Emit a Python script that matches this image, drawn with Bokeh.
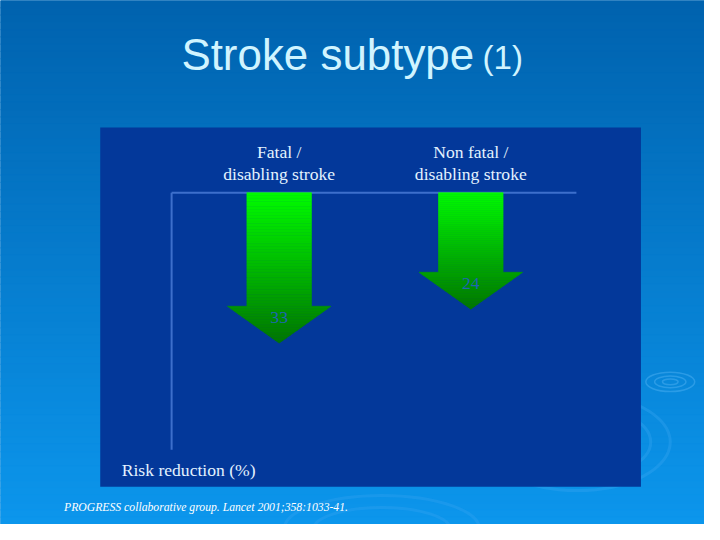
import numpy as np
from bokeh.plotting import figure
from bokeh.models import Range1d, ColumnDataSource
from bokeh.core.properties import value
from bokeh.embed import file_html
from bokeh.resources import INLINE

# ---- data ----
categories = ["Fatal /\ndisabling stroke", "Non fatal /\ndisabling stroke"]
risk_reduction = [33, 24]
title_main = "Stroke subtype"
title_suffix = "(1)"
axis_title = "Risk reduction (%)"
source_note = "PROGRESS collaborative group. Lancet 2001;358:1033-41."

# ---- layout helpers (reference-slide pixel -> data units) ----
W, H = 704, 524
REF_W, REF_H = 720, 540
FS = 0.975        # font scale (canvas / reference slide)
PX_X = 196.0      # ref px per category step
PX_Y = 3.89       # ref px per percentage point
X0_REF = 285.0    # ref x of first category centre
Y0_REF = 198.0    # ref y of zero line


def xd(rx):
    return (rx - X0_REF) / PX_X


def yd(ry):
    return (ry - Y0_REF) / PX_Y


def fpx(s):
    return "%.1fpx" % (s * FS)


def lerp(c0, c1, t):
    return "#%02x%02x%02x" % tuple(int(round(a + (b - a) * t)) for a, b in zip(c0, c1))


p = figure(width=W, height=H, output_backend="svg", toolbar_location=None, tools="",
           x_range=Range1d(xd(0), xd(REF_W)), y_range=Range1d(yd(REF_H), yd(0)),
           x_axis_location=None, y_axis_location=None, min_border=0)
p.outline_line_color = None
p.grid.grid_line_color = None
p.background_fill_color = "#0a7ccb"
p.border_fill_color = "#0a7ccb"

# ---- slide background gradient ----
nb = 72
edges = np.linspace(0, REF_H, nb + 1)
top_c, bot_c = (0, 98, 174), (12, 150, 236)
bg_cols = [lerp(top_c, bot_c, ((edges[i] + edges[i + 1]) / 2) / REF_H) for i in range(nb)]
p.quad(left=xd(0), right=xd(REF_W), top=[yd(e) for e in edges[:-1]],
       bottom=[yd(e) for e in edges[1:]], fill_color=bg_cols, line_color=bg_cols, line_width=1)

# ---- faint ripples ----
p.ellipse(x=[xd(685)] * 3, y=[yd(393)] * 3,
          width=[50 / PX_X, 32 / PX_X, 16 / PX_X], height=[20 / PX_Y, 12 / PX_Y, 6 / PX_Y],
          fill_color=None, line_color="#55b4f5", line_alpha=0.45, line_width=1.5)
p.ellipse(x=[xd(590), xd(590)], y=[yd(455), yd(455)],
          width=[190 / PX_X, 150 / PX_X], height=[100 / PX_Y, 75 / PX_Y],
          fill_color=None, line_color="#3aa6f2", line_alpha=0.35, line_width=3)
p.ellipse(x=[xd(390), xd(390)], y=[yd(545), yd(545)],
          width=[200 / PX_X, 140 / PX_X], height=[70 / PX_Y, 45 / PX_Y],
          fill_color=None, line_color="#3aa6f2", line_alpha=0.3, line_width=3)

# ---- dark chart panel ----
p.quad(left=xd(102), right=xd(655), top=yd(131), bottom=yd(501),
       fill_color="#03389a", line_color=None)

# ---- axis lines ----
axis_col = "#3d6fcc"
p.segment(x0=[xd(175), xd(175)], y0=[0, 0], x1=[xd(589), xd(175)], y1=[0, yd(463)],
          line_color=axis_col, line_width=2)

# ---- gradient arrows ----
SHAFT_HALF = 33 / PX_X
HEAD_HALF = 53 / PX_X
HEAD_LEN = 38 / PX_Y
TIP_OVER = 26.7 / PX_Y
c_top, c_tip = (0, 252, 0), (0, 118, 0)

xs, ys, cols = [], [], []
for i, v in enumerate(risk_reduction):
    tip = v + TIP_OVER
    hs = tip - HEAD_LEN
    n1 = 40
    sb = np.linspace(0, hs, n1 + 1)
    for a, b in zip(sb[:-1], sb[1:]):
        xs.append([i - SHAFT_HALF, i + SHAFT_HALF, i + SHAFT_HALF, i - SHAFT_HALF])
        ys.append([a, a, b, b])
        cols.append(lerp(c_top, c_tip, ((a + b) / 2) / tip))
    n2 = 14
    hb = np.linspace(hs, tip, n2 + 1)
    for a, b in zip(hb[:-1], hb[1:]):
        wa = HEAD_HALF * (tip - a) / HEAD_LEN
        wb = HEAD_HALF * (tip - b) / HEAD_LEN
        xs.append([i - wa, i + wa, i + wb, i - wb])
        ys.append([a, a, b, b])
        cols.append(lerp(c_top, c_tip, ((a + b) / 2) / tip))

src = ColumnDataSource(dict(xs=xs, ys=ys, color=cols))
p.patches("xs", "ys", source=src, fill_color="color", line_color="color", line_width=0.6)

# value labels
p.text(x=list(range(len(risk_reduction))), y=risk_reduction,
       text=[str(v) for v in risk_reduction], text_align="center", text_baseline="middle",
       text_font=value("Liberation Serif"), text_font_size=fpx(18), text_color="#1f66b4")

# category labels
p.text(x=list(range(len(categories))), y=[yd(189)] * len(categories), text=categories,
       text_align="center", text_baseline="bottom", text_line_height=1.12,
       text_font=value("Liberation Serif"), text_font_size=fpx(18), text_color="#e4f3ff")

# ---- slide texts (placed by their vertical middle) ----
p.text(x=[xd(185)], y=[yd(71 - 0.346 * 45)], text=[title_main], text_align="left",
       text_baseline="middle", text_font=value("Liberation Sans"), text_font_size=fpx(45),
       text_color="#d0f4ff")
p.text(x=[xd(493)], y=[yd(71 - 0.346 * 34)], text=[title_suffix], text_align="left",
       text_baseline="middle", text_font=value("Liberation Sans"), text_font_size=fpx(34),
       text_color="#d0f4ff")
p.text(x=[xd(124)], y=[yd(490 - 0.34 * 18)], text=[axis_title], text_align="left",
       text_baseline="middle", text_font=value("Liberation Serif"), text_font_size=fpx(18),
       text_color="#e4f3ff")
p.text(x=[xd(65)], y=[yd(527 - 0.34 * 12)], text=[source_note], text_align="left",
       text_baseline="middle", text_font=value("Liberation Serif"), text_font_style="italic",
       text_font_size=fpx(12), text_color="#ffffff")

open("out.html", "w").write(file_html(p, INLINE))
